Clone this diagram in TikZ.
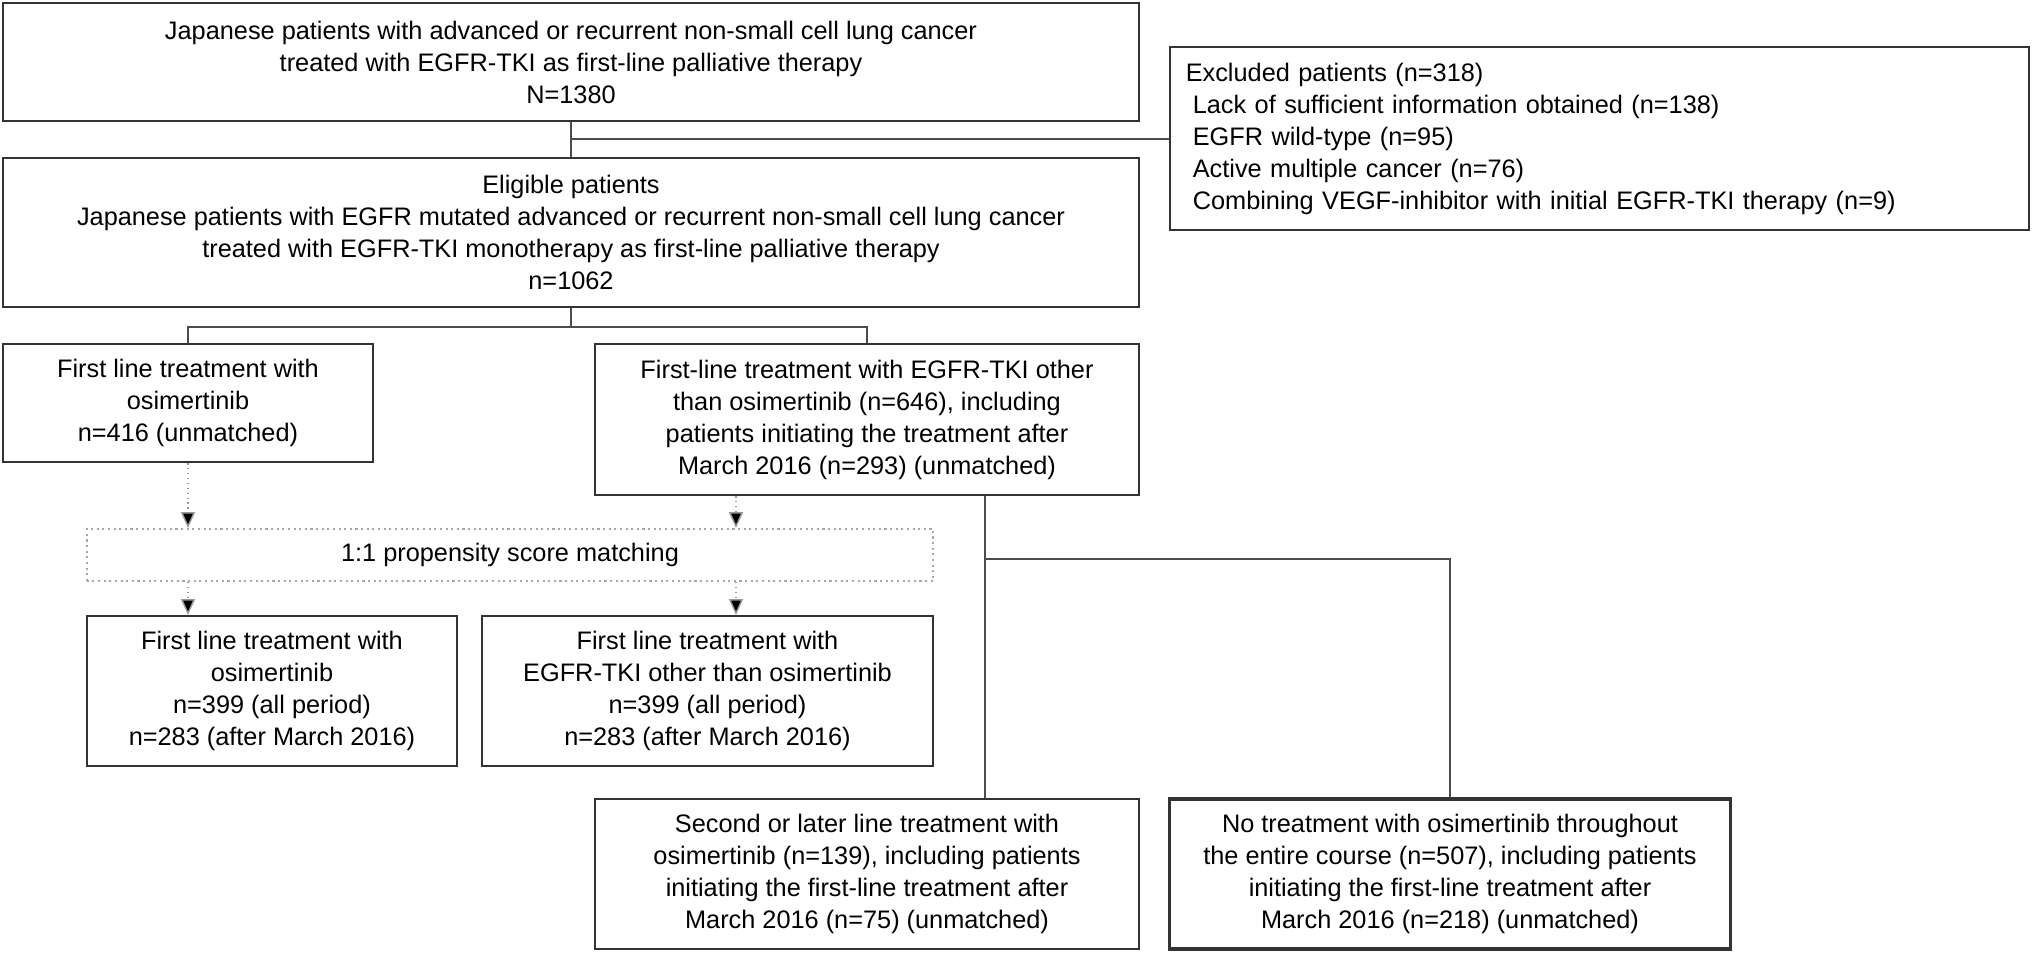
\documentclass[tikz,border=0pt]{standalone}
\usepackage{fontspec}
\setmainfont{Liberation Sans}
\usetikzlibrary{arrows.meta, positioning}

\begin{document}
\begin{tikzpicture}[
    x=0.01cm, y=-0.01cm,
    font=\fontsize{7.2}{9.1}\selectfont,
    box/.style={rectangle, draw=black!80, line width=0.6pt, inner sep=0pt, align=center},
    matchbox/.style={rectangle, draw=gray!70, densely dotted, line width=0.6pt, inner sep=0pt, align=center},
    line/.style={draw=black!70, line width=0.4pt},
    arrow/.style={draw=gray!80, densely dotted, line width=0.4pt, -{Triangle[length=4.5pt, width=4pt, fill=black]}}
]
\useasboundingbox (0,0) rectangle (2032,953);

% --- cohort ---
\node[box, minimum width=11.36cm, minimum height=1.18cm] (cohort) at (571,62)
    {Japanese patients with advanced or recurrent non-small cell lung cancer\\
     treated with EGFR-TKI as first-line palliative therapy\\N=1380};
\node[box, minimum width=8.59cm, minimum height=1.83cm, text width=8.27cm, align=left] (excluded) at (1599.5,138.5)
    {Excluded patients (n=318)\\
     \hspace*{2pt}Lack of sufficient information obtained (n=138)\\
     \hspace*{2pt}EGFR wild-type (n=95)\\
     \hspace*{2pt}Active multiple cancer (n=76)\\
     \hspace*{2pt}Combining VEGF-inhibitor with initial EGFR-TKI therapy (n=9)};
\node[box, minimum width=11.36cm, minimum height=1.49cm] (eligible) at (571,232.5)
    {Eligible patients\\
     Japanese patients with EGFR mutated advanced or recurrent non-small cell lung cancer\\
     treated with EGFR-TKI monotherapy as first-line palliative therapy\\n=1062};

% --- first-line groups ---
\node[box, minimum width=3.7cm, minimum height=1.18cm] (osim) at (188,403)
    {First line treatment with\\osimertinib\\n=416 (unmatched)};
\node[box, minimum width=5.44cm, minimum height=1.51cm] (other) at (867,419.5)
    {First-line treatment with EGFR-TKI other\\than osimertinib (n=646), including\\
     patients initiating the treatment after\\March 2016 (n=293) (unmatched)};

% --- matching ---
\node[matchbox, minimum width=8.46cm, minimum height=0.52cm] (matching) at (510,555)
    {1:1 propensity score matching};
\node[box, minimum width=3.7cm, minimum height=1.5cm] (osim_m) at (272,691)
    {First line treatment with\\osimertinib\\n=399 (all period)\\n=283 (after March 2016)};
\node[box, minimum width=4.51cm, minimum height=1.5cm] (other_m) at (707.5,691)
    {First line treatment with\\EGFR-TKI other than osimertinib\\n=399 (all period)\\n=283 (after March 2016)};

% --- later lines ---
\node[box, minimum width=5.44cm, minimum height=1.5cm] (second) at (867,874)
    {Second or later line treatment with\\osimertinib (n=139), including patients\\
     initiating the first-line treatment after\\March 2016 (n=75) (unmatched)};
\node[box, line width=0.9pt, minimum width=5.6cm, minimum height=1.5cm] (none) at (1450,874)
    {No treatment with osimertinib throughout\\the entire course (n=507), including patients\\
     initiating the first-line treatment after\\March 2016 (n=218) (unmatched)};

% --- connectors ---
\coordinate (split) at (571,139);
\draw[line] (cohort) -- (eligible);
\draw[line] (split) -- (excluded.west |- split);
\draw[line] (eligible.south) -- ++(0,19) -| (osim.north);
\draw[line] (eligible.south) -- ++(0,19) -| (other.north);

\draw[arrow] (osim.south) -- (matching.north -| osim.south);
\draw[arrow] (other.south -| 736,0) -- (matching.north -| 736,0);
\draw[arrow] (matching.south -| osim.south) -- (osim_m.north -| osim.south);
\draw[arrow] (matching.south -| 736,0) -- (other_m.north -| 736,0);

\coordinate (fork) at (985,559);
\draw[line] (other.south -| fork) -- (second.north -| fork);
\draw[line] (fork) -| (none.north);

\end{tikzpicture}
\end{document}
